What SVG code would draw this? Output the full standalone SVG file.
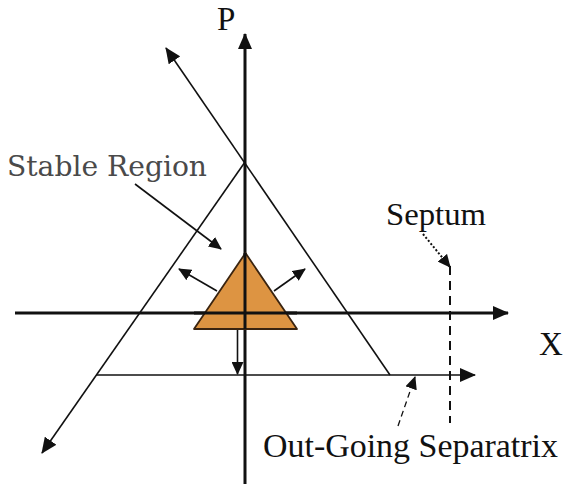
<svg xmlns="http://www.w3.org/2000/svg" width="563" height="489" viewBox="0 0 563 489">
<style>
.axis{stroke:#111;stroke-width:3;fill:none}
.thin{stroke:#111;stroke-width:1.6;fill:none}
.lbl{font-family:"Liberation Serif","Times New Roman",serif;fill:#111}
</style>
<defs>
<marker id="ah" markerUnits="userSpaceOnUse" markerWidth="16" markerHeight="14" refX="15" refY="7" orient="auto">
<path d="M0,0 L16,7 L0,14 Z" fill="#111"/>
</marker>
<marker id="ahs" markerUnits="userSpaceOnUse" markerWidth="13" markerHeight="12" refX="12" refY="6" orient="auto">
<path d="M0,0 L13,6 L0,12 Z" fill="#111"/>
</marker>
</defs>
<rect width="563" height="489" fill="#fff"/>
<g id="connectors">
<line class="axis" x1="245" y1="484" x2="245" y2="34" marker-end="url(#ah)"/>
<line class="axis" x1="15" y1="313" x2="508" y2="313" marker-end="url(#ah)"/>
<line class="thin" x1="390" y1="375" x2="166" y2="48" marker-end="url(#ah)"/>
<line class="thin" x1="245" y1="162" x2="42" y2="453" marker-end="url(#ah)"/>
<line class="thin" x1="96" y1="375" x2="475" y2="375" marker-end="url(#ah)"/>
<line class="thin" x1="135" y1="184" x2="221" y2="249" marker-end="url(#ahs)"/>
<line class="thin" x1="217" y1="291" x2="179" y2="269" marker-end="url(#ahs)"/>
<line class="thin" x1="274" y1="291" x2="305" y2="269" marker-end="url(#ahs)"/>
<line class="thin" x1="237.5" y1="329" x2="237.5" y2="374" marker-end="url(#ahs)"/>
<line stroke="#111" stroke-width="2" stroke-dasharray="2,2" x1="423" y1="234" x2="450" y2="267" marker-end="url(#ahs)"/>
<line stroke="#111" stroke-width="2" stroke-dasharray="9,6" x1="450" y1="266" x2="450" y2="423"/>
<line stroke="#111" stroke-width="1.3" stroke-dasharray="6,4" x1="398" y1="426" x2="415" y2="377" marker-end="url(#ahs)"/>
</g>
<g id="stable-triangle">
<polygon points="245.5,253 194,329 297,329" fill="#DD9442" stroke="#3a2410" stroke-width="1.8" stroke-linejoin="round"/>
<line class="axis" x1="194" y1="313" x2="297" y2="313" stroke="#2a1a0a"/>
<line class="axis" x1="245" y1="253" x2="245" y2="329" stroke="#2a1a0a"/>
</g>
<g id="label-P"><text class="lbl" x="217" y="30" font-size="33">P</text></g>
<g id="label-X"><text class="lbl" x="539" y="355" font-size="33">X</text></g>
<g id="label-stable"><text x="7" y="176" font-family="'DejaVu Serif',serif" font-size="28" fill="#4a4a4a" textLength="200" lengthAdjust="spacingAndGlyphs">Stable Region</text></g>
<g id="label-septum"><text class="lbl" x="386" y="225" font-size="31" textLength="100" lengthAdjust="spacingAndGlyphs">Septum</text></g>
<g id="label-separatrix"><text class="lbl" x="263" y="457" font-size="33" textLength="295" lengthAdjust="spacingAndGlyphs">Out-Going Separatrix</text></g>
</svg>
